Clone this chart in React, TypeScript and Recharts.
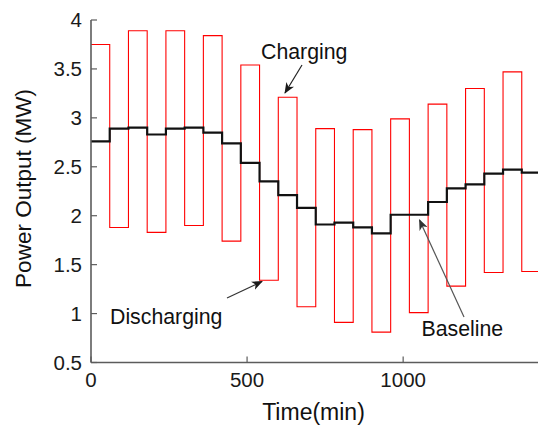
import React from 'react';
import { LineChart, Line, XAxis, YAxis } from 'recharts';

const FONT = '"Liberation Sans", Arial, Helvetica, sans-serif';
const AXIS = '#5c5c5c';

// Time (min) at the start of each hourly step
const timeMin = [0, 60, 120, 180, 240, 300, 360, 420, 480, 540, 600, 660, 720, 780, 840, 900, 960, 1020, 1080, 1140, 1200, 1260, 1320, 1380, 1440];
// Storage-affected output (red): alternating charging / discharging levels
const chargeMW = [3.75, 1.88, 3.89, 1.83, 3.89, 1.90, 3.84, 1.74, 3.54, 1.34, 3.21, 1.07, 2.89, 0.91, 2.88, 0.81, 2.99, 1.01, 3.14, 1.28, 3.30, 1.42, 3.47, 1.43, 1.43];
// Baseline output (black)
const baselineMW = [2.76, 2.89, 2.90, 2.83, 2.89, 2.90, 2.85, 2.74, 2.54, 2.35, 2.21, 2.08, 1.91, 1.93, 1.88, 1.82, 2.01, 2.01, 2.14, 2.28, 2.32, 2.43, 2.47, 2.44, 2.44];

const xTicks = [0, 500, 1000];
const yTicks = [0.5, 1, 1.5, 2, 2.5, 3, 3.5, 4];
const xDomain = [0, 1432];
const yDomain = [0.5, 4];

const data = timeMin.map((t, i) => ({ t, charge: chargeMW[i], base: baselineMW[i] }));

const LeftTick = (props: any) => {
  const { x, y, payload } = props;
  return (
    <g>
      <line x1={x + 9} x2={x + 15} y1={y} y2={y} stroke={AXIS} strokeWidth={1.2} />
      <text x={x} y={y} dy="0.36em" textAnchor="end" fontSize={20.5} fontFamily={FONT} fill="#1a1a1a">
        {payload.value}
      </text>
    </g>
  );
};

const BottomTick = (props: any) => {
  const { x, y, payload } = props;
  return (
    <g>
      <line x1={x} x2={x} y1={y - 10} y2={y - 16} stroke={AXIS} strokeWidth={1.2} />
      <text x={x} y={y} dy="0.72em" textAnchor="middle" fontSize={20.5} fontFamily={FONT} fill="#1a1a1a">
        {payload.value}
      </text>
    </g>
  );
};

const TopTick = (props: any) => {
  const { x, y } = props;
  return <line x1={x} x2={x} y1={y} y2={y + 6} stroke={AXIS} strokeWidth={1.2} />;
};

const RightTick = (props: any) => {
  const { x, y } = props;
  return <line x1={x} x2={x - 6} y1={y} y2={y} stroke={AXIS} strokeWidth={1.2} />;
};

export default function App() {
  return (
    <div style={{ position: 'absolute', left: 0, top: 0, width: 539, height: 427, background: '#fff' }}>
      <LineChart width={539} height={427} data={data} margin={{ top: 20, right: 1, bottom: 0, left: 0 }}>
        <XAxis
          dataKey="t"
          type="number"
          domain={xDomain}
          allowDataOverflow
          ticks={xTicks}
          height={64.5}
          tickSize={0}
          tickMargin={10}
          tick={BottomTick}
          axisLine={{ stroke: AXIS, strokeWidth: 1.6 }}
        />
        <XAxis
          xAxisId="top"
          orientation="top"
          dataKey="t"
          type="number"
          domain={xDomain}
          allowDataOverflow
          ticks={xTicks}
          height={0}
          tickSize={0}
          tickMargin={0}
          tick={TopTick}
          axisLine={{ stroke: AXIS, strokeWidth: 1.6 }}
        />
        <YAxis
          type="number"
          domain={yDomain}
          allowDataOverflow
          ticks={yTicks}
          width={91}
          tickSize={0}
          tickMargin={9}
          tick={LeftTick}
          axisLine={{ stroke: AXIS, strokeWidth: 1.6 }}
        />
        <YAxis
          yAxisId="right"
          orientation="right"
          type="number"
          domain={yDomain}
          allowDataOverflow
          ticks={yTicks}
          width={0}
          tickSize={0}
          tickMargin={0}
          tick={RightTick}
          axisLine={{ stroke: AXIS, strokeWidth: 1.6 }}
        />
        <Line type="stepAfter" dataKey="charge" stroke="#ff0000" strokeWidth={1.1} dot={false} isAnimationActive={false} />
        <Line type="stepAfter" dataKey="base" stroke="#111111" strokeWidth={2.2} dot={false} isAnimationActive={false} />
      </LineChart>
      <svg
        width={539}
        height={427}
        style={{ position: 'absolute', left: 0, top: 0, pointerEvents: 'none' }}
        fontFamily={FONT}
      >
        <defs>
          <marker id="ahDark" markerWidth="11" markerHeight="9" refX="10" refY="4.5" orient="auto" markerUnits="userSpaceOnUse">
            <path d="M0,0 L11,4.5 L0,9 L3,4.5 z" fill="#1a1a1a" />
          </marker>
          <marker id="ahGray" markerWidth="11" markerHeight="9" refX="10" refY="4.5" orient="auto" markerUnits="userSpaceOnUse">
            <path d="M0,0 L11,4.5 L0,9 L3,4.5 z" fill="#333" />
          </marker>
        </defs>
        <text x={261} y={58.5} fontSize={21.3} fill="#111">Charging</text>
        <line x1={302} y1={65} x2={285} y2={93} stroke="#222" strokeWidth={1.2} markerEnd="url(#ahDark)" />
        <text x={110} y={324} fontSize={21.3} fill="#111">Discharging</text>
        <line x1={227} y1={298} x2={262} y2={281.5} stroke="#333" strokeWidth={1.2} markerEnd="url(#ahDark)" />
        <text x={421.5} y={336} fontSize={21.3} fill="#111">Baseline</text>
        <line x1={464} y1={317} x2={419.5} y2={220} stroke="#555" strokeWidth={1.2} markerEnd="url(#ahGray)" />
        <text x={313.5} y={419.5} fontSize={23} textAnchor="middle" fill="#111">Time(min)</text>
        <text x={31} y={188.5} fontSize={22.5} textAnchor="middle" fill="#111" transform="rotate(-90 31 188.5)">
          Power Output (MW)
        </text>
      </svg>
    </div>
  );
}
